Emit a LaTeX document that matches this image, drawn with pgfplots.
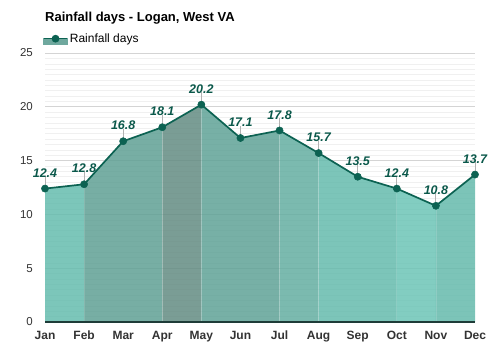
\documentclass[border=0pt]{standalone}
\usepackage{pgfplots}
\pgfplotsset{compat=1.18}
\usepackage{fontspec}
\setmainfont{Liberation Sans}
\definecolor{cA}{RGB}{101,188,174}
\definecolor{cB}{RGB}{95,160,148}
\definecolor{cC}{RGB}{99,140,130}
\definecolor{cD}{RGB}{95,162,150}
\definecolor{cE}{RGB}{100,174,161}
\definecolor{cF}{RGB}{101,187,173}
\definecolor{cG}{RGB}{108,196,182}
\definecolor{cH}{RGB}{101,186,172}
\definecolor{linec}{RGB}{12,98,82}
\definecolor{labc}{RGB}{10,88,74}
\definecolor{legf}{RGB}{111,168,158}
\definecolor{axc}{RGB}{30,60,56}
\definecolor{tickc}{RGB}{51,51,51}
\begin{document}
\begin{tikzpicture}
\path[use as bounding box] (0,0) rectangle (500pt,350pt);
\begin{axis}[
  at={(45pt,28pt)}, anchor=south west,
  scale only axis, width=430pt, height=269pt,
  xmin=0, xmax=11, ymin=0, ymax=25,
  clip=false,
  xtick={0,...,11},
  xticklabels={Jan,Feb,Mar,Apr,May,Jun,Jul,Aug,Sep,Oct,Nov,Dec},
  ytick={0,5,...,25}, minor y tick num=9,
  ymajorgrids, yminorgrids,
  major grid style={color=black!17, line width=0.6pt},
  minor grid style={color=black!6, line width=0.5pt},
  major tick length=0pt, minor tick length=0pt,
  axis x line=bottom, axis y line=left,
  y axis line style={draw=none},
  x axis line style={-, draw=none},
  /pgf/number format/assume math mode=true,
  x tick label style={anchor=base, yshift=-18pt, inner sep=0pt, font=\bfseries\fontsize{12}{14}\selectfont, text=tickc},
  y tick label style={anchor=east, inner sep=0pt, xshift=-12pt, font=\fontsize{11.5}{14}\selectfont, text=tickc},
  title={Rainfall days - Logan, West VA},
  title style={at={(0,1)}, anchor=west, yshift=29pt, inner sep=0pt, font=\bfseries\fontsize{13}{16}\selectfont},
  legend style={draw=none, fill=none, at={(0,1)}, anchor=south west, yshift=7pt, xshift=-2pt, inner sep=0pt, font=\fontsize{12}{14}\selectfont},
  legend cell align=left,
]
\addplot[fill=cA, fill opacity=0.85, draw=none, forget plot] coordinates {(0,0)(0,12.4)(1,12.8)(1,0)} --cycle;
\addplot[fill=cB, fill opacity=0.85, draw=none, forget plot] coordinates {(1,0)(1,12.8)(2,16.8)(3,18.1)(3,0)} --cycle;
\addplot[fill=cC, fill opacity=0.85, draw=none, forget plot] coordinates {(3,0)(3,18.1)(4,20.2)(4,0)} --cycle;
\addplot[fill=cD, fill opacity=0.85, draw=none, forget plot] coordinates {(4,0)(4,20.2)(5,17.1)(6,17.8)(6,0)} --cycle;
\addplot[fill=cE, fill opacity=0.85, draw=none, forget plot] coordinates {(6,0)(6,17.8)(7,15.7)(7,0)} --cycle;
\addplot[fill=cF, fill opacity=0.85, draw=none, forget plot] coordinates {(7,0)(7,15.7)(8,13.5)(9,12.4)(9,0)} --cycle;
\addplot[fill=cG, fill opacity=0.85, draw=none, forget plot] coordinates {(9,0)(9,12.4)(10,10.8)(10,0)} --cycle;
\addplot[fill=cH, fill opacity=0.85, draw=none, forget plot] coordinates {(10,0)(10,10.8)(11,13.7)(11,0)} --cycle;
\addplot[white, opacity=0.15, line width=0.8pt, forget plot] coordinates {(1,0)(1,12.8)};
\addplot[white, opacity=0.15, line width=0.8pt, forget plot] coordinates {(3,0)(3,18.1)};
\addplot[white, opacity=0.15, line width=0.8pt, forget plot] coordinates {(4,0)(4,20.2)};
\addplot[white, opacity=0.15, line width=0.8pt, forget plot] coordinates {(6,0)(6,17.8)};
\addplot[white, opacity=0.15, line width=0.8pt, forget plot] coordinates {(7,0)(7,15.7)};
\addplot[white, opacity=0.15, line width=0.8pt, forget plot] coordinates {(9,0)(9,12.4)};
\addplot[white, opacity=0.15, line width=0.8pt, forget plot] coordinates {(10,0)(10,10.8)};
\addplot[axc, line width=1.3pt, forget plot] coordinates {(0,0)(11,0)};
\addplot[only marks, mark=none, forget plot,
  error bars/.cd, y dir=plus, y fixed=1.15, error mark=none,
  error bar style={color=black!30, line width=1pt}]
  coordinates {(0,12.4)(1,12.8)(2,16.8)(3,18.1)(4,20.2)(5,17.1)(6,17.8)(7,15.7)(8,13.5)(9,12.4)(10,10.8)(11,13.7)};
\addplot[color=linec, line width=1.7pt, mark=*, mark size=3.6pt,
  mark options={fill=linec, draw=linec, line width=0.5pt},
  nodes near coords={\pgfmathprintnumber[fixed,fixed zerofill,precision=1]{\pgfplotspointmeta}},
  nodes near coords style={anchor=south, yshift=10pt, inner sep=1pt, font=\bfseries\itshape\fontsize{12.5}{14}\selectfont, text=labc},
  legend image code/.code={
    \fill[legf] (0pt,0pt) rectangle (23pt,-5.5pt);
    \draw[linec, line width=1.4pt] (0pt,0pt) -- (23pt,0pt);
    \fill[linec] (11.5pt,0pt) circle (3pt);
  }]
  coordinates {(0,12.4)(1,12.8)(2,16.8)(3,18.1)(4,20.2)(5,17.1)(6,17.8)(7,15.7)(8,13.5)(9,12.4)(10,10.8)(11,13.7)};
\addlegendentry{Rainfall days}
\end{axis}
\end{tikzpicture}
\end{document}
